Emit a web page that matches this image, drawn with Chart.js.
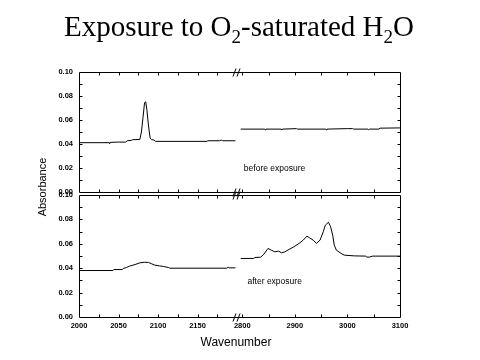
<!DOCTYPE html>
<html><head><meta charset="utf-8">
<script src="https://cdn.jsdelivr.net/npm/chart.js@4"></script>
<style>
html,body{margin:0;padding:0;background:#fff;}
#wrap{position:relative;width:480px;height:360px;overflow:hidden;}
canvas{position:absolute;left:0;top:0;}
#title{position:absolute;left:0;top:6px;width:478px;text-align:center;font-family:"Liberation Serif","Times New Roman",serif;font-size:29px;line-height:40px;color:#000;white-space:nowrap;}
#title sub{font-size:19px;vertical-align:-7px;line-height:0;}
</style></head><body>
<div id="wrap"><canvas id="c" width="480" height="360"></canvas><div id="title">Exposure to O<sub>2</sub>-saturated H<sub>2</sub>O</div></div>
<script>
// ---- data (wavenumber / absorbance) ----
const beforeLowX = [2000,2038,2039,2040,2050,2059,2061,2066,2068,2077,2079,2081,2083,2084.5,2086,2088,2090,2092,2095,2097,2162,2163,2178,2180,2182,2198];
const beforeLowY = [0.0411,0.0411,0.0405,0.0414,0.0416,0.0416,0.0427,0.0430,0.0436,0.0438,0.0500,0.0620,0.0745,0.0752,0.0680,0.0550,0.0450,0.0436,0.0433,0.0422,0.0422,0.0427,0.0427,0.0433,0.0427,0.0427];
const beforeHighX = [2797,2843,2844,2845,2874,2875,2876,2903,2905,2959,2960,2961,3000,3010,3012,3039,3040,3042,3060,3062,3100];
const beforeHighY = [0.0524,0.0524,0.0518,0.0524,0.0524,0.0518,0.0524,0.0528,0.0524,0.0524,0.0518,0.0524,0.0528,0.0528,0.0524,0.0524,0.0518,0.0524,0.0524,0.0532,0.0534];
const afterLowX = [2000,2043,2044,2055,2056,2060,2064,2071,2077,2083,2088,2092,2096,2102,2107,2113,2115,2187,2189,2190,2198];
const afterLowY = [0.0381,0.0381,0.0389,0.0389,0.0398,0.0406,0.0417,0.0430,0.0444,0.0449,0.0447,0.0436,0.0425,0.0419,0.0414,0.0406,0.0400,0.0400,0.0408,0.0403,0.0403];
const afterHighX = [2797,2822,2824,2835,2841,2849,2856,2862,2869,2875,2881,2889,2898,2908,2916,2923,2928,2935,2941,2948,2954,2958,2964,2968,2972,2975,2979,2988,2994,3013,3035,3037,3042,3048,3100];
const afterHighY = [0.0480,0.0480,0.0488,0.0490,0.0515,0.0562,0.0546,0.0534,0.0540,0.0526,0.0534,0.0554,0.0575,0.0603,0.0630,0.0663,0.0649,0.0630,0.0603,0.0630,0.0698,0.0753,0.0776,0.0740,0.0671,0.0589,0.0548,0.0521,0.0507,0.0501,0.0499,0.0491,0.0491,0.0499,0.0499];

// ---- axis ticks & labels ----
const xLowTicks = [2000,2050,2100,2150];
const xHighTicks = [2800,2900,3000,3100];
const xLowMinor = [2025,2050,2075,2100,2125,2150,2175];
const xHighMinor = [2800,2850,2900,2950,3000,3050];
const yTicks = [0.00,0.02,0.04,0.06,0.08,0.10];
const yMinor = [0.01,0.02,0.03,0.04,0.05,0.06,0.07,0.08,0.09];
const xTitle = 'Wavenumber';
const yTitle = 'Absorbance';
const beforeLabel = 'before exposure';
const afterLabel = 'after exposure';

const pts = (xs, ys) => xs.map((x, i) => ({x: x, y: ys[i]}));
const tickFont = {family: '"Liberation Sans", Arial, sans-serif', size: 7.5, weight: 'bold'};

function setTicks(vals) { return s => { s.ticks = vals.map(v => ({value: v})); }; }

const lineDs = (data, xId, yId) => ({
  data: data, xAxisID: xId, yAxisID: yId, borderColor: '#000', borderWidth: 1,
  pointRadius: 0, tension: 0, fill: false
});

const framePlugin = {
  id: 'frame',
  afterDraw(chart) {
    const ctx = chart.ctx;
    const {xLow, xHigh, yTop, yBot} = chart.scales;
    const L = Math.round(xLow.left) + 0.5, R = Math.round(xHigh.right) + 0.5;
    const bx = xLow.right;
    ctx.save();
    ctx.strokeStyle = '#000';
    ctx.lineWidth = 1;
    [yTop, yBot].forEach(ys => {
      const t = Math.round(ys.getPixelForValue(0.10)) + 0.5;
      const b = Math.round(ys.getPixelForValue(0)) + 0.5;
      ctx.beginPath();
      ctx.rect(L, t, R - L, b - t);
      xLowMinor.forEach(v => { const x = Math.round(xLow.getPixelForValue(v)) + 0.5; ctx.moveTo(x, t); ctx.lineTo(x, t + 3); ctx.moveTo(x, b); ctx.lineTo(x, b - 3); });
      xHighMinor.forEach(v => { const x = Math.round(xHigh.getPixelForValue(v)) + 0.5; ctx.moveTo(x, t); ctx.lineTo(x, t + 3); ctx.moveTo(x, b); ctx.lineTo(x, b - 3); });
      yMinor.forEach(v => { const y = Math.round(ys.getPixelForValue(v)) + 0.5; ctx.moveTo(L, y); ctx.lineTo(L + 3, y); ctx.moveTo(R, y); ctx.lineTo(R - 3, y); });
      ctx.stroke();
      // axis break marks
      ctx.beginPath();
      [t, b].forEach(yy => {
        ctx.moveTo(bx - 4, yy + 4); ctx.lineTo(bx - 1, yy - 4);
        ctx.moveTo(bx + 0, yy + 4); ctx.lineTo(bx + 3, yy - 4);
      });
      ctx.stroke();
    });
    // texts
    ctx.fillStyle = '#000';
    ctx.font = '8.5px "Liberation Sans", Arial, sans-serif';
    ctx.textAlign = 'left';
    ctx.textBaseline = 'middle';
    ctx.fillText(beforeLabel, xHigh.getPixelForValue(2803), yTop.getPixelForValue(0.0192));
    ctx.fillText(afterLabel, xHigh.getPixelForValue(2810), yBot.getPixelForValue(0.0293));
    ctx.font = '12px "Liberation Sans", Arial, sans-serif';
    ctx.textAlign = 'center';
    ctx.fillText(xTitle, 236, 343);
    ctx.save();
    ctx.translate(43, 187);
    ctx.rotate(-Math.PI / 2);
    ctx.font = '11px "Liberation Sans", Arial, sans-serif';
    ctx.fillText(yTitle, 0, 0);
    ctx.restore();
    ctx.restore();
  }
};

const xCommon = (min, max, weight, ticks) => ({
  type: 'linear', axis: 'x', position: 'bottom', stack: 'xs', stackWeight: weight, min: min, max: max,
  afterBuildTicks: setTicks(ticks),
  afterFit: s => { s.height = 20; },
  grid: {display: false, drawTicks: false}, border: {display: false},
  ticks: {font: tickFont, color: '#000', padding: 4, maxRotation: 0, autoSkip: false, callback: v => String(v)}
});
const yCommon = (min, max, weight) => ({
  type: 'linear', axis: 'y', position: 'left', stack: 'ys', stackWeight: weight, min: min, max: max,
  afterBuildTicks: setTicks(yTicks),
  afterFit: s => { s.width = 30; },
  grid: {display: false, drawTicks: false}, border: {display: false},
  ticks: {font: tickFont, color: '#000', padding: 6, autoSkip: false, callback: v => v.toFixed(2)}
});

new Chart(document.getElementById('c'), {
  type: 'line',
  data: {
    datasets: [
      lineDs(pts(beforeLowX, beforeLowY), 'xLow', 'yTop'),
      lineDs(pts(beforeHighX, beforeHighY), 'xHigh', 'yTop'),
      lineDs(pts(afterLowX, afterLowY), 'xLow', 'yBot'),
      lineDs(pts(afterHighX, afterHighY), 'xHigh', 'yBot')
    ]
  },
  options: {
    responsive: false, animation: false, devicePixelRatio: 1,
    layout: {padding: {left: 49, right: 80, top: 72, bottom: 23}},
    plugins: {legend: {display: false}, tooltip: {enabled: false}, title: {display: false}},
    scales: {
      xLow: xCommon(2000, 2200, 158, xLowTicks),
      xHigh: xCommon(2790, 3100, 163, xHighTicks),
      yBot: yCommon(0, 0.10, 122),
      yTop: yCommon(-0.0025, 0.10, 123)
    }
  },
  plugins: [framePlugin]
});
</script>
</body></html>
